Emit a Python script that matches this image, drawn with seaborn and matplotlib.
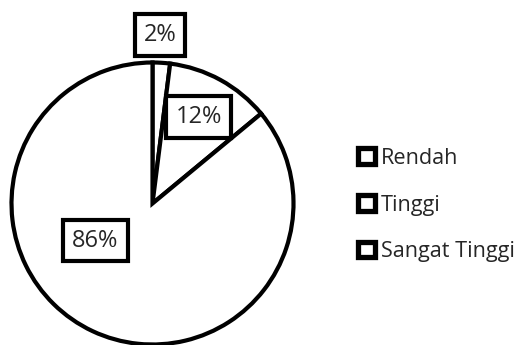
import matplotlib
matplotlib.use("Agg")
import matplotlib.pyplot as plt
import seaborn as sns
import numpy as np

categories = ["Rendah", "Tinggi", "Sangat Tinggi"]
values = [2, 12, 86]
pct_labels = ["2%", "12%", "86%"]

sns.set_theme(style="white")
plt.rcParams['font.family'] = ['Open Sans', 'DejaVu Sans']

fig = plt.figure(figsize=(5.32, 3.45), dpi=100)
W, H = 532, 345
cx, cy, r = 152.5, 203.5, 141
ax = fig.add_axes([(cx - r) / W, (H - cy - r) / H, 2 * r / W, 2 * r / H])

wedges, _ = ax.pie(values, startangle=90, counterclock=False,
                   colors=["white"] * len(values),
                   wedgeprops=dict(edgecolor="black", linewidth=3.0))
ax.set_xlim(-1, 1)
ax.set_ylim(-1, 1)
ax.set_aspect("equal")
ax.axis("off")
for w in wedges:
    w.set_clip_on(False)

# label placement: radius and angle (degrees) of each percentage box
label_radius = [1.193, 0.695, 0.482]
label_angle = [87.4, 62.0, -147.0]
for i, v in enumerate(values):
    ang = np.deg2rad(label_angle[i])
    ax.text(label_radius[i] * np.cos(ang), label_radius[i] * np.sin(ang), pct_labels[i],
            ha="center", va="center", fontsize=17, clip_on=False,
            bbox=dict(boxstyle="square,pad=0.38", facecolor="white", edgecolor="black", linewidth=3.0))

leg = fig.legend(wedges, categories, loc="center left", bbox_to_anchor=(358 / W, 1 - 205 / H),
                 frameon=False, fontsize=15.6, handlelength=0.8, handleheight=0.75,
                 handletextpad=0.25, labelspacing=1.18, borderpad=0, borderaxespad=0)
for p in leg.get_patches():
    p.set_linewidth(3.8)

fig.savefig("out.png", dpi=100)
